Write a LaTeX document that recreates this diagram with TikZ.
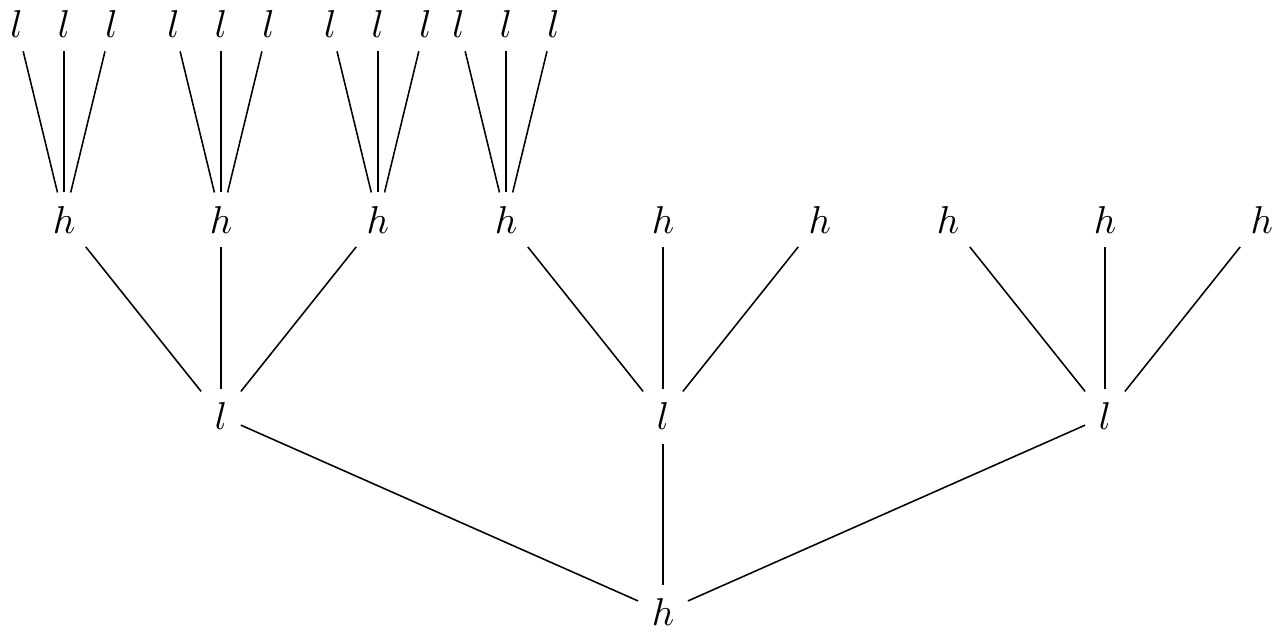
\documentclass[tikz,border=0pt]{standalone}
\usetikzlibrary{positioning}

\begin{document}
\begin{tikzpicture}[
  every node/.style={font=\normalsize},
]

\tikzset{
  hv/.style={inner sep=.3333em},
  lv/.style={inner sep=.3333em},
  branch/.style={black, line width=0.4pt},
}

\useasboundingbox (-6.0,-0.19) rectangle (5.647,5.538);

% ---- root ----
\node[hv] (root) at (0,0) {$h$};

% ---- level 1 ----
\node[lv] (lA) at (-4,1.77) {$l$};
\node[lv] (lB) at (0,1.77)  {$l$};
\node[lv] (lC) at (4,1.77)  {$l$};

\draw[branch] (root) -- (lA);
\draw[branch] (root) -- (lB);
\draw[branch] (root) -- (lC);

% ---- level 2 ----
\node[hv] (hA1) at (-5.42,3.55) {$h$};
\node[hv] (hA2) at (-4,3.55)    {$h$};
\node[hv] (hA3) at (-2.58,3.55) {$h$};
\node[hv] (hB1) at (-1.42,3.55) {$h$};
\node[hv] (hB2) at (0,3.55)     {$h$};
\node[hv] (hB3) at (1.42,3.55)  {$h$};
\node[hv] (hC1) at (2.58,3.55)  {$h$};
\node[hv] (hC2) at (4,3.55)     {$h$};
\node[hv] (hC3) at (5.42,3.55)  {$h$};

\draw[branch] (lA) -- (hA1);
\draw[branch] (lA) -- (hA2);
\draw[branch] (lA) -- (hA3);
\draw[branch] (lB) -- (hB1);
\draw[branch] (lB) -- (hB2);
\draw[branch] (lB) -- (hB3);
\draw[branch] (lC) -- (hC1);
\draw[branch] (lC) -- (hC2);
\draw[branch] (lC) -- (hC3);

% ---- level 3 (leaves) ----
\node[lv] (tA1a) at (-5.85,5.32) {$l$};
\node[lv] (tA1b) at (-5.42,5.32) {$l$};
\node[lv] (tA1c) at (-4.99,5.32) {$l$};
\node[lv] (tA2a) at (-4.43,5.32) {$l$};
\node[lv] (tA2b) at (-4,5.32)    {$l$};
\node[lv] (tA2c) at (-3.57,5.32) {$l$};
\node[lv] (tA3a) at (-3.01,5.32) {$l$};
\node[lv] (tA3b) at (-2.58,5.32) {$l$};
\node[lv] (tA3c) at (-2.15,5.32) {$l$};
\node[lv] (tB1a) at (-1.85,5.32) {$l$};
\node[lv] (tB1b) at (-1.42,5.32) {$l$};
\node[lv] (tB1c) at (-0.99,5.32) {$l$};

\draw[branch] (hA1) -- (tA1a);
\draw[branch] (hA1) -- (tA1b);
\draw[branch] (hA1) -- (tA1c);
\draw[branch] (hA2) -- (tA2a);
\draw[branch] (hA2) -- (tA2b);
\draw[branch] (hA2) -- (tA2c);
\draw[branch] (hA3) -- (tA3a);
\draw[branch] (hA3) -- (tA3b);
\draw[branch] (hA3) -- (tA3c);
\draw[branch] (hB1) -- (tB1a);
\draw[branch] (hB1) -- (tB1b);
\draw[branch] (hB1) -- (tB1c);

\end{tikzpicture}
\end{document}
